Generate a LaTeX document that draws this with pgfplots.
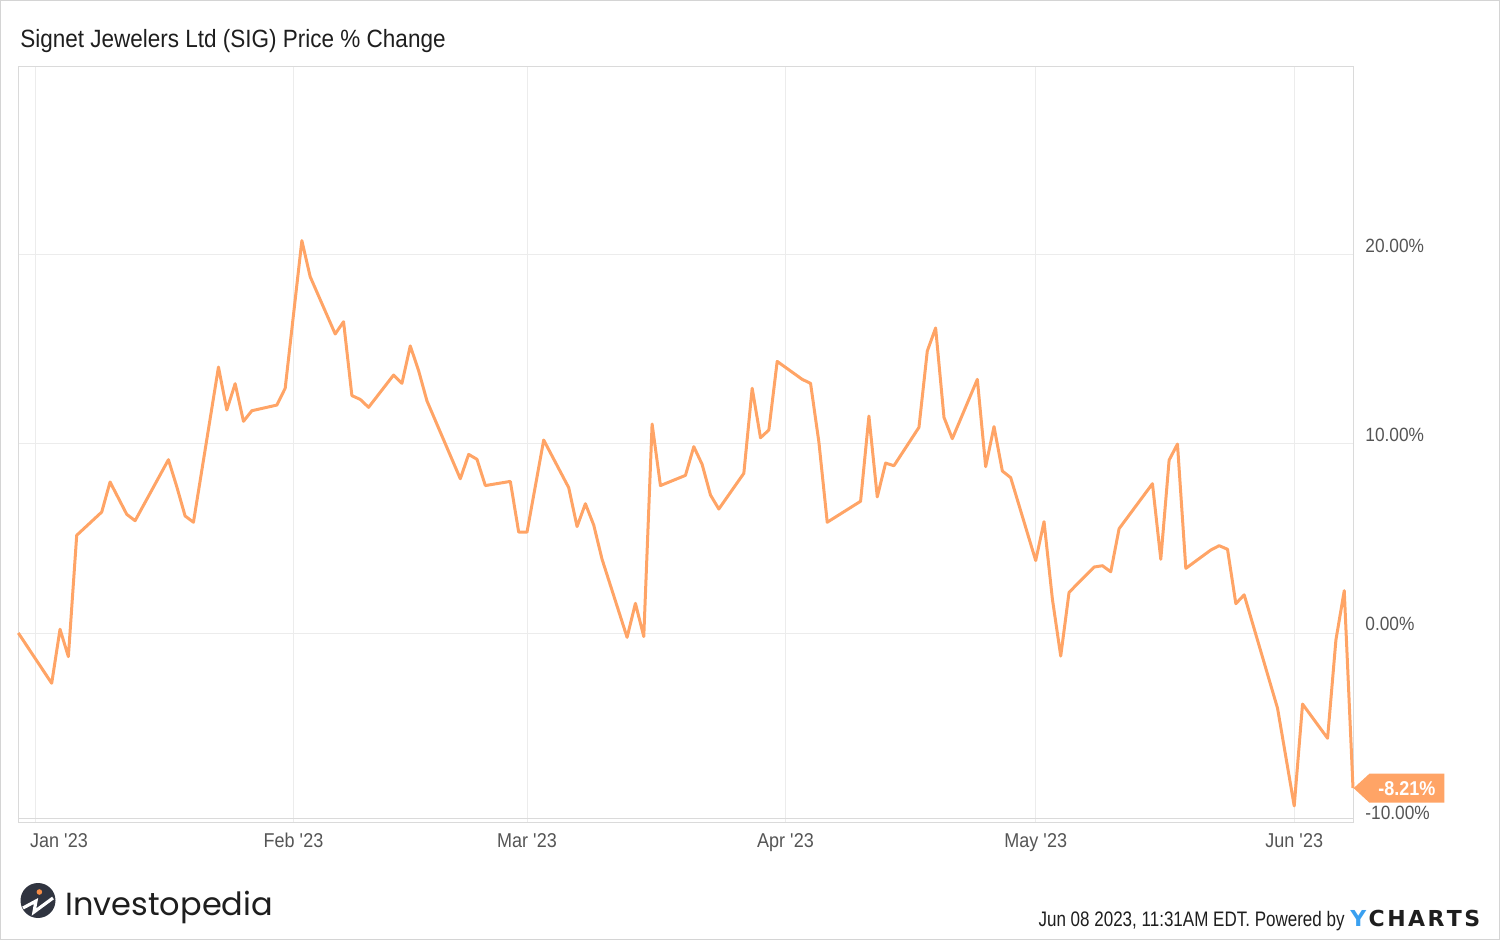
\documentclass[border=0pt]{standalone}
\usepackage{fontspec}
\setmainfont{Liberation Sans}[FakeStretch=0.9]
\newfontfamily\narrowfont{Liberation Sans}[FakeStretch=0.81]
\newfontfamily\poppins{Poppins}
\newfontfamily\ycfont{DejaVu Sans}
\usepackage{pgfplots}
\usepackage{pgfplotstable}
\pgfplotsset{compat=1.18}
\usetikzlibrary{shapes.symbols}
\definecolor{sigline}{RGB}{255,164,102}
\definecolor{gridc}{RGB}{236,236,236}
\definecolor{boxc}{RGB}{218,218,218}
\definecolor{framec}{RGB}{212,212,212}
\definecolor{tickc}{RGB}{85,85,85}
\definecolor{titlec}{RGB}{30,30,30}
\definecolor{ycblue}{RGB}{58,160,240}
\definecolor{logoc}{RGB}{48,52,64}
\definecolor{logoo}{RGB}{245,140,70}

% day 0 = 1 Jan 2023; value = price % change
\pgfplotstableread{
day val
-2 0
2 -2.66
3 0.20
4 -1.25
5 5.17
8 6.40
9 7.99
11 6.28
12 5.94
16 9.17
17 7.74
18 6.19
19 5.86
22 14.07
23 11.80
24 13.19
25 11.20
26 11.76
29 12.06
30 12.95
32 20.76
33 18.85
36 15.82
37 16.47
38 12.56
39 12.36
40 11.94
43 13.65
44 13.21
45 15.19
46 13.88
47 12.28
51 8.16
52 9.45
53 9.19
54 7.80
57 8.02
58 5.34
59 5.34
61 10.21
64 7.69
65 5.63
66 6.84
67 5.71
68 3.90
71 -0.23
72 1.57
73 -0.19
74 11.06
75 7.80
78 8.34
79 9.86
80 8.92
81 7.30
82 6.56
85 8.45
86 12.95
87 10.33
88 10.74
89 14.37
92 13.42
93 13.21
94 10.10
95 5.86
99 6.97
100 11.48
101 7.20
102 8.99
103 8.85
106 10.88
107 14.92
108 16.14
109 11.41
110 10.28
113 13.42
114 8.80
115 10.92
116 8.57
117 8.22
120 3.83
121 5.89
122 1.80
123 -1.22
124 2.15
127 3.49
128 3.56
129 3.24
130 5.52
134 7.90
135 3.90
136 9.15
137 10.00
138 3.42
141 4.39
142 4.62
143 4.43
144 1.55
145 2.02
149 -3.98
151 -9.15
152 -3.76
155 -5.57
156 -0.37
157 2.24
158.05 -8.21
}\sigdata

\begin{document}
\begin{tikzpicture}
\path[use as bounding box] (0,0) rectangle (750pt,-470pt);
\draw[line width=0.5pt, framec] (0.25pt,-0.25pt) rectangle (749.75pt,-469.75pt);
\node[anchor=base west, inner sep=0, font=\fontsize{12.5}{15}\selectfont, text=titlec] at (10pt,-23.85pt) {Signet Jewelers Ltd (SIG) Price \% Change};
\begin{axis}[
  at={(9pt,-33.5pt)}, anchor=north west,
  scale only axis, width=667.5pt, height=377.5pt,
  xmin=-2.04, xmax=158.05, ymin=-10, ymax=29.947,
  axis line style={boxc, line width=0.5pt},
  xtick={0,31,59,90,120,151},
  xticklabels={\hspace*{24pt}Jan \textquotesingle23, Feb \textquotesingle23, Mar \textquotesingle23, Apr \textquotesingle23, May \textquotesingle23, Jun \textquotesingle23},
  ytick={-10,0,10,20},
  yticklabels={-10.00\%,0.00\%,10.00\%,20.00\%},
  yticklabel pos=right,
  tick style={draw=none},
  grid=major, grid style={gridc, line width=0.5pt},
  xticklabel style={anchor=base, yshift=-12.5pt, inner sep=0, font=\fontsize{10}{12}\selectfont, text=tickc},
  yticklabel style={anchor=base west, xshift=6pt, yshift=1.25pt, inner sep=0, font=\fontsize{9.6}{12}\selectfont, text=tickc},
  extra y ticks={-9.79}, extra y tick labels={},
  extra y tick style={grid=major, major grid style={boxc, line width=0.5pt}},
  clip=false,
]
\addplot[sigline, line width=1.5pt, line join=round, mark=none] table[x=day, y=val] {\sigdata};
\node[shape=signal, signal to=west, signal pointer angle=85, fill=sigline, text=white,
  font=\fontsize{10}{11}\selectfont\bfseries, inner xsep=4.5pt, inner ysep=0pt,
  minimum height=14.5pt, anchor=west] at (axis cs:158.05,-8.21) {-8.21\%};
\end{axis}
% footer
\fill[logoc] (19pt,-450.25pt) circle (8.75pt);
\draw[white, line width=1.6pt, line join=miter] (11.5pt,-454pt) -- (18pt,-450.5pt) -- (17pt,-456pt) -- (26.5pt,-449pt);
\fill[logoo] (19.7pt,-446pt) circle (1.4pt);
\node[anchor=base west, inner sep=0, font=\poppins\fontsize{16}{19}\selectfont, text=titlec] at (32.5pt,-457.5pt) {Investopedia};
\node[anchor=base east, inner sep=0, font=\narrowfont\fontsize{10.5}{12}\selectfont, text=titlec] at (672.5pt,-463pt) {Jun 08 2023, 11:31AM EDT. Powered by};
\node[anchor=base west, inner sep=0, font=\ycfont\bfseries\fontsize{11}{13}\selectfont, text=titlec] at (675pt,-463pt) {{\color{ycblue}Y}\kern1.2pt C\kern1.2pt H\kern1.2pt A\kern1.2pt R\kern1.2pt T\kern1.2pt S};
\end{tikzpicture}
\end{document}
